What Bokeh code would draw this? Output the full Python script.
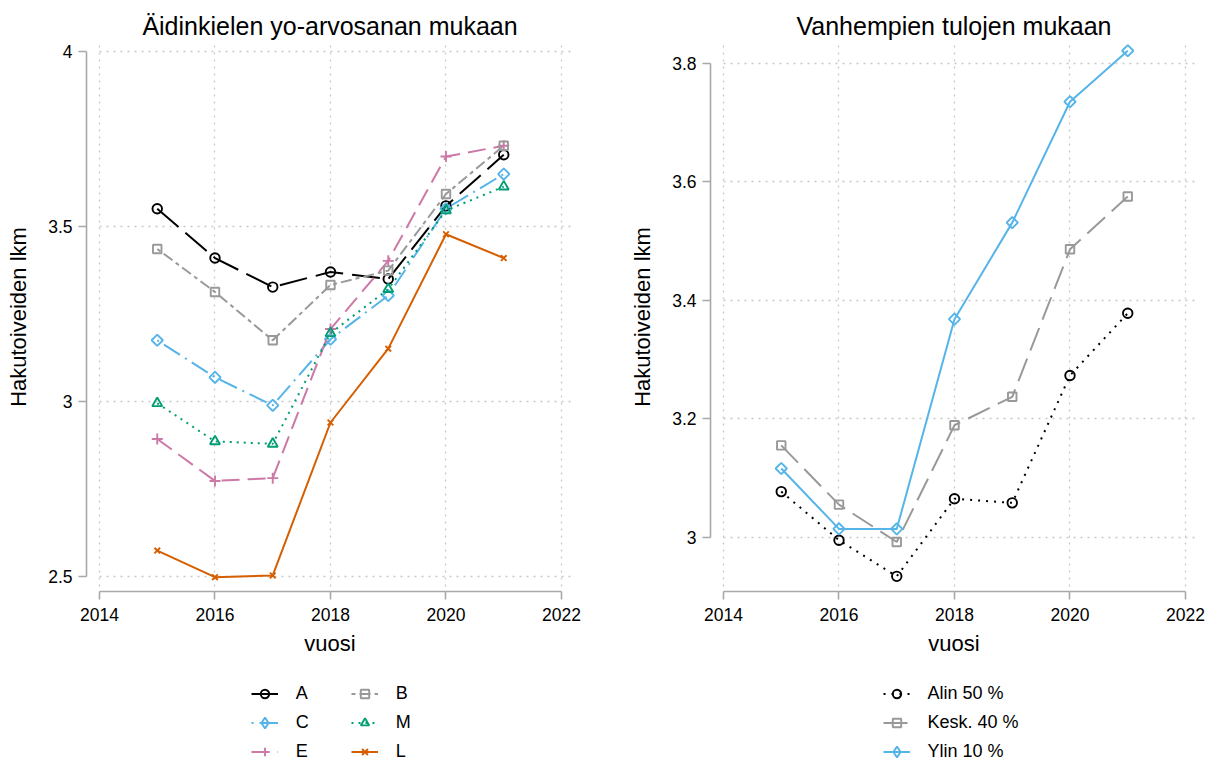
import math
from bokeh.plotting import figure
from bokeh.models import FixedTicker, Legend, LegendItem, Grid
from bokeh.layouts import row, column
from bokeh.embed import file_html
from bokeh.resources import INLINE

# ---------------- data ----------------
years = [2015, 2016, 2017, 2018, 2019, 2020, 2021]

# left panel: by mother-tongue matriculation grade
grade_A = [3.551, 3.410, 3.327, 3.370, 3.350, 3.559, 3.705]
grade_B = [3.436, 3.313, 3.175, 3.333, 3.374, 3.593, 3.731]
grade_C = [3.175, 3.069, 2.989, 3.178, 3.303, 3.551, 3.650]
grade_M = [2.995, 2.886, 2.879, 3.195, 3.321, 3.546, 3.614]
grade_E = [2.893, 2.773, 2.781, 3.207, 3.402, 3.700, 3.731]
grade_L = [2.574, 2.498, 2.503, 2.940, 3.151, 3.478, 3.410]

# right panel: by parental income
income_low50 = [3.077, 2.995, 2.934, 3.065, 3.058, 3.273, 3.378]
income_mid40 = [3.155, 3.055, 2.992, 3.189, 3.237, 3.486, 3.575]
income_top10 = [3.116, 3.014, 3.014, 3.368, 3.531, 3.735, 3.821]

x_ticks = [2014, 2016, 2018, 2020, 2022]
x_tick_labels = ["2014", "2016", "2018", "2020", "2022"]
left_y_ticks = [2.5, 3.0, 3.5, 4.0]
left_y_tick_labels = ["2.5", "3", "3.5", "4"]
right_y_ticks = [3.0, 3.2, 3.4, 3.6, 3.8]
right_y_tick_labels = ["3", "3.2", "3.4", "3.6", "3.8"]

left_title = "Äidinkielen yo-arvosanan mukaan"
right_title = "Vanhempien tulojen mukaan"
x_label = "vuosi"
y_label = "Hakutoiveiden lkm"

# ---------------- styling ----------------
FONT = "Liberation Sans"
AXIS_GRAY = "#A8A8A8"
GRID_GRAY = "#C8C8C8"

left_series = [
    # label, values, color, dash, marker, size, angle
    ("A", grade_A, "#000000", "28 9", "circle", 9.5, 0.0),
    ("C", grade_C, "#56B4E9", "2 6 19 6", "square", 8, math.pi / 4),
    ("E", grade_E, "#CC79A7", "18 8", "cross", 11, 0.0),
    ("B", grade_B, "#999999", "4 4 11 4", "square", 8.5, 0.0),
    ("M", grade_M, "#009E73", "2 5", "triangle", 10, 0.0),
    ("L", grade_L, "#D55E00", "solid", "x", 8, 0.0),
]
right_series = [
    ("Alin 50 %", income_low50, "#000000", "2 6", "circle", 9.5, 0.0),
    ("Kesk. 40 %", income_mid40, "#999999", "24 9", "square", 8.5, 0.0),
    ("Ylin 10 %", income_top10, "#56B4E9", "solid", "square", 8, math.pi / 4),
]

X_RANGE = (2013.775, 2022.208)
MAIN_H = 670
LEG_H = 94
FRAME_TOP = 42
FRAME_H = 549
BORDER_L = 86
ROW_CENTERS = [71, 42, 13]   # legend rows, px above the legend strip's bottom


def make_fig(title, y_range, y_ticks, y_tick_labels, width, mbr, grid_low):
    p = figure(width=width, height=MAIN_H, x_range=X_RANGE, y_range=y_range,
               output_backend="svg", toolbar_location=None,
               min_border_left=BORDER_L, min_border_right=mbr,
               min_border_top=FRAME_TOP,
               min_border_bottom=MAIN_H - FRAME_TOP - FRAME_H,
               title=title)
    p.outline_line_color = None
    p.background_fill_color = "white"
    p.border_fill_color = "white"

    p.title.text_font = FONT
    p.title.text_font_size = "25px"
    p.title.text_font_style = "normal"
    p.title.text_color = "#000000"
    p.title.align = "center"
    p.title.standoff = 6

    for ax in (p.xaxis[0], p.yaxis[0]):
        ax.axis_line_color = AXIS_GRAY
        ax.axis_line_width = 1.6
        ax.major_tick_line_color = AXIS_GRAY
        ax.major_tick_line_width = 1.6
        ax.major_tick_out = 8
        ax.major_tick_in = 0
        ax.minor_tick_out = 0
        ax.minor_tick_in = 0
        ax.major_label_text_font = FONT
        ax.major_label_text_font_size = "17.5px"
        ax.major_label_text_color = "#000000"
        ax.axis_label_text_font = FONT
        ax.axis_label_text_font_size = "22px"
        ax.axis_label_text_font_style = "normal"
        ax.axis_label_text_color = "#000000"

    p.xaxis[0].ticker = FixedTicker(ticks=x_ticks)
    p.xaxis[0].bounds = (x_ticks[0], x_ticks[-1])
    p.xaxis[0].major_label_overrides = dict(zip(x_ticks, x_tick_labels))
    p.xaxis[0].axis_label = x_label
    p.xaxis[0].major_label_standoff = 8
    p.xaxis[0].axis_label_standoff = 7

    p.yaxis[0].ticker = FixedTicker(ticks=y_ticks)
    p.yaxis[0].bounds = (y_ticks[0], y_ticks[-1])
    p.yaxis[0].major_label_overrides = dict(zip(y_ticks, y_tick_labels))
    p.yaxis[0].axis_label = y_label
    p.yaxis[0].major_label_standoff = 6
    p.yaxis[0].axis_label_standoff = 14

    for g in (p.xgrid[0], p.ygrid[0]):
        g.grid_line_color = GRID_GRAY
        g.grid_line_width = 1.3
        g.grid_line_dash = "2 5"
    if "cross_bounds" in Grid.properties():
        p.xgrid[0].cross_bounds = (grid_low, y_range[1])
        p.ygrid[0].cross_bounds = (x_ticks[0], X_RANGE[1])
    return p


def add_series(p, series):
    for label, vals, color, dash, marker, size, angle in series:
        p.line(years, vals, line_color=color, line_width=2, line_dash=dash)
        p.scatter(years, vals, marker=marker, size=size, angle=angle,
                  line_color=color, line_width=1.9, fill_color=None)


def make_legend_fig(width, mbr, series, layout_spec):
    lp = figure(width=width, height=LEG_H, x_range=(0, 1), y_range=(0, 1),
                output_backend="svg", toolbar_location=None,
                x_axis_location=None, y_axis_location=None,
                min_border_left=BORDER_L, min_border_right=mbr,
                min_border_top=0, min_border_bottom=0)
    lp.outline_line_color = None
    lp.xgrid.visible = False
    lp.ygrid.visible = False
    lp.background_fill_color = "white"
    lp.border_fill_color = "white"
    for label, vals, color, dash, marker, size, angle in series:
        # a single off-screen sample point only feeds the legend swatch
        sample_x = [-1.0]
        sample_y = [-1.0]
        is_diamond = angle != 0.0
        lm = "diamond" if is_diamond else marker
        gh = 27 if is_diamond else 21
        ln = lp.line(sample_x, sample_y, line_color=color, line_width=2, line_dash=dash)
        sc = lp.scatter(sample_x, sample_y, marker=lm, size=size,
                        line_color=color, line_width=1.9, fill_color=None)
        vx, row_i = layout_spec[label]
        vy = ROW_CENTERS[row_i] - gh / 2
        lg = Legend(items=[LegendItem(label=label, renderers=[ln, sc])],
                    location=(vx, vy), orientation="vertical",
                    glyph_width=27, glyph_height=gh, label_height=gh,
                    label_standoff=18, spacing=0, padding=0, margin=0,
                    border_line_alpha=0, background_fill_alpha=0,
                    label_text_font=FONT, label_text_font_size="18px",
                    label_text_color="#000000")
        lp.add_layout(lg)
    return lp


W1 = 624
W2 = 588
p1 = make_fig(left_title, (2.457, 4.026), left_y_ticks, left_y_tick_labels, W1, W1 - BORDER_L - 487, 2.471)
add_series(p1, left_series)
l1 = make_legend_fig(W1, W1 - BORDER_L - 487, left_series,
                     {"A": (164.7, 0), "C": (164.7, 1), "E": (164.7, 2),
                      "B": (264.7, 0), "M": (264.7, 1), "L": (264.7, 2)})

p2 = make_fig(right_title, (2.9084, 3.835), right_y_ticks, right_y_tick_labels, W2, W2 - BORDER_L - 487, 2.917)
add_series(p2, right_series)
l2 = make_legend_fig(W2, W2 - BORDER_L - 487, right_series,
                     {"Alin 50 %": (172.5, 0), "Kesk. 40 %": (172.5, 1), "Ylin 10 %": (172.5, 2)})

layout = row(column(p1, l1), column(p2, l2))
open("out.html", "w").write(file_html(layout, INLINE))
